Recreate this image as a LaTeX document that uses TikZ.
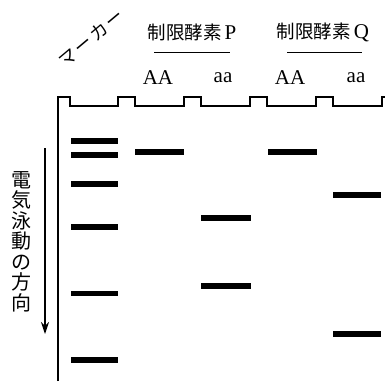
\documentclass[tikz,border=0pt]{standalone}
\usepackage{fontspec}
\setmainfont{Liberation Serif}
\newfontfamily\jp{Noto Sans CJK JP}
\usetikzlibrary{arrows.meta}
\tikzset{
  gel/.style={line width=1.1pt, line join=miter},
  band/.style={fill=black},
  lane/.style={font=\fontsize{21}{21}\selectfont, inner sep=0pt},
  head/.style={font=\fontsize{18.5}{18.5}\selectfont, inner sep=0pt},
  rule/.style={line width=0.8pt},
  dirarrow/.style={line width=1.3pt, -{Stealth[length=12pt,width=8pt]}}
}
\begin{document}
\begin{tikzpicture}[x=1pt,y=-1pt]
\useasboundingbox (0,0) rectangle (385,381);
% gel outline with wells
\draw[gel] (58,381) -- (58,97) -- (70,97) -- (70,106) -- (118,106) -- (118,97)
  -- (135,97) -- (135,106) -- (184,106) -- (184,97)
  -- (201,97) -- (201,106) -- (250,106) -- (250,97)
  -- (267,97) -- (267,106) -- (316,106) -- (316,97)
  -- (333,97) -- (333,106) -- (382,106) -- (382,97) -- (385,97);
% headings
\node[head] (hp) at (192,32) {{\jp 制限酵素}\,{\fontsize{21}{21}\selectfont P}};
\node[head] (hq) at (323,32) {{\jp 制限酵素}\,{\fontsize{21}{21}\selectfont Q}};
\coordinate (p1) at (154,52); \coordinate (p2) at (230,52);
\coordinate (q1) at (287,52); \coordinate (q2) at (362,52);
\draw[rule] (p1) -- (p2);
\draw[rule] (q1) -- (q2);
\node[lane] (l1) at (158,77.5) {AA};
\node[lane] (l2) at (223,77.5) {aa};
\node[lane] (l3) at (290,77.5) {AA};
\node[lane] (l4) at (356,77.5) {aa};
% marker label
\node[inner sep=0pt, rotate=40, font=\jp\fontsize{18}{18}\selectfont] (mk) at (91,38) {マ\hspace{2pt}ー\hspace{2pt}カ\hspace{2pt}ー};
% direction
\node[inner sep=0pt, align=center, font=\jp\fontsize{20}{20.5}\selectfont] (dir) at (21,241.5)
  {電\\気\\泳\\動\\の\\方\\向};
\coordinate (a1) at (45,148); \coordinate (a2) at (45,334);
\draw[dirarrow] (a1) -- (a2);
% marker bands
\foreach \y in {141,155,184,227,293.5,360}
  \fill[band] (71,\y-2.8) rectangle (118,\y+2.8);
% P AA
\fill[band] (135,151.7-2.8) rectangle (184,151.7+2.8);
% P aa
\foreach \y in {217.7,286}
  \fill[band] (201,\y-2.8) rectangle (251,\y+2.8);
% Q AA
\fill[band] (268,151.7-2.8) rectangle (316.5,151.7+2.8);
% Q aa
\foreach \y in {195,334}
  \fill[band] (333,\y-2.8) rectangle (381,\y+2.8);
\end{tikzpicture}
\end{document}
